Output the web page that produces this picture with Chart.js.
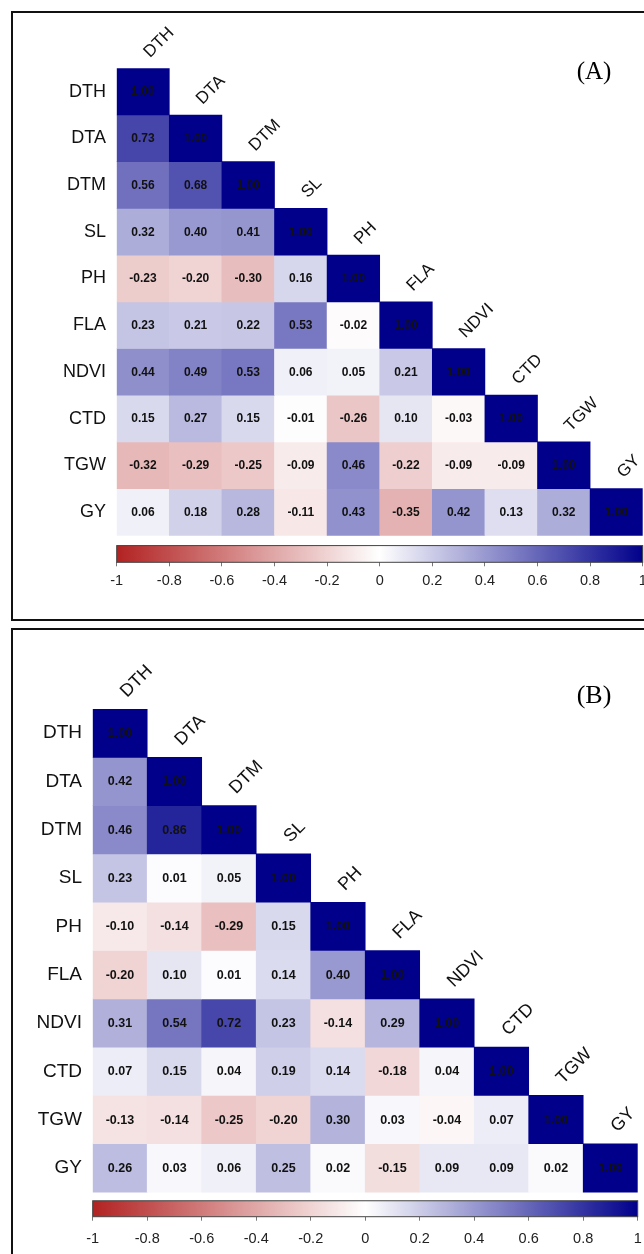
<!DOCTYPE html>
<html>
<head>
<meta charset="utf-8">
<title>Trait correlations (A) and (B)</title>
<script src="https://cdn.jsdelivr.net/npm/chart.js@4.4.1/dist/chart.umd.min.js"></script>
<style>
  html, body { margin: 0; padding: 0; background: #fff; }
  body { position: relative; width: 644px; height: 1254px; overflow: hidden; }
  .frame { position: absolute; left: 11px; width: 720px; border: 2.5px solid #111; box-sizing: border-box; }
  #frame-a { top: 11px; height: 610px; }
  #frame-b { top: 628px; height: 700px; }
  .tag { position: absolute; font-family: "Liberation Serif", "Times New Roman", serif; color: #000; transform: translate(-50%, -50%); }
  canvas { position: absolute; left: 0; }
</style>
</head>
<body>
<div class="frame" id="frame-a"></div>
<div class="frame" id="frame-b"></div>
<canvas id="chart-a" width="644" height="610" style="top:0px"></canvas>
<canvas id="chart-b" width="644" height="622" style="top:632px"></canvas>
<div class="tag" style="left:594px; top:71px; font-size:25px">(A)</div>
<div class="tag" style="left:594px; top:695px; font-size:26px">(B)</div>

<script>
// Trait names (rows and columns of both matrices)
const traits = ['DTH', 'DTA', 'DTM', 'SL', 'PH', 'FLA', 'NDVI', 'CTD', 'TGW', 'GY'];

// Lower triangle of the correlation matrix, panel (A)
const corrA = [
    [1.00],
    [0.73, 1.00],
    [0.56, 0.68, 1.00],
    [0.32, 0.40, 0.41, 1.00],
    [-0.23, -0.20, -0.30, 0.16, 1.00],
    [0.23, 0.21, 0.22, 0.53, -0.02, 1.00],
    [0.44, 0.49, 0.53, 0.06, 0.05, 0.21, 1.00],
    [0.15, 0.27, 0.15, -0.01, -0.26, 0.10, -0.03, 1.00],
    [-0.32, -0.29, -0.25, -0.09, 0.46, -0.22, -0.09, -0.09, 1.00],
    [0.06, 0.18, 0.28, -0.11, 0.43, -0.35, 0.42, 0.13, 0.32, 1.00]
];

// Lower triangle of the correlation matrix, panel (B)
const corrB = [
    [1.00],
    [0.42, 1.00],
    [0.46, 0.86, 1.00],
    [0.23, 0.01, 0.05, 1.00],
    [-0.10, -0.14, -0.29, 0.15, 1.00],
    [-0.20, 0.10, 0.01, 0.14, 0.40, 1.00],
    [0.31, 0.54, 0.72, 0.23, -0.14, 0.29, 1.00],
    [0.07, 0.15, 0.04, 0.19, 0.14, -0.18, 0.04, 1.00],
    [-0.13, -0.14, -0.25, -0.20, 0.30, 0.03, -0.04, 0.07, 1.00],
    [0.26, 0.03, 0.06, 0.25, 0.02, -0.15, 0.09, 0.09, 0.02, 1.00]
];

// Colour bar tick labels
const colorbarTicks = [-1, -0.8, -0.6, -0.4, -0.2, 0, 0.2, 0.4, 0.6, 0.8, 1];

const NEG_END = [178, 34, 34];   // firebrick
const POS_END = [0, 0, 139];     // darkblue
const SANS = '"Liberation Sans", Arial, sans-serif';

/**
 * Map a correlation in [-1, 1] to a red-white-blue colour
 */
function corrColor(v) {
    const end = v < 0 ? NEG_END : POS_END;
    const t = Math.min(1, Math.abs(v));
    const c = end.map(e => Math.round(255 + (e - 255) * t));
    return `rgb(${c[0]}, ${c[1]}, ${c[2]})`;
}

/**
 * One floating-bar dataset per matrix row
 */
function buildDatasets(matrix) {
    return matrix.map((row, r) => ({
        label: traits[r],
        data: traits.map((_, c) => c < row.length ? [r, r + 1] : null),
        values: traits.map((_, c) => c < row.length ? row[c] : null),
        backgroundColor: traits.map((_, c) => c < row.length ? corrColor(row[c]) : 'rgba(0,0,0,0)'),
        borderWidth: 0,
        grouped: false,
        barPercentage: 1,
        categoryPercentage: 1,
        xAxisID: 'x',
        yAxisID: 'y'
    }));
}

/**
 * Draw one triangular heatmap with its colour bar
 */
function makeHeatmap(canvasId, matrix, g) {
    // numbers inside the cells
    const cellText = {
        id: 'cellText',
        afterDatasetsDraw(chart) {
            const ctx = chart.ctx;
            ctx.save();
            ctx.font = `bold ${g.cellFont}px ${SANS}`;
            ctx.fillStyle = '#111';
            ctx.textAlign = 'center';
            ctx.textBaseline = 'middle';
            chart.data.datasets.forEach((ds, i) => {
                chart.getDatasetMeta(i).data.forEach((bar, c) => {
                    const v = ds.values[c];
                    if (v === null) return;
                    const p = bar.getProps(['x', 'y', 'base'], true);
                    ctx.fillText(v.toFixed(2), p.x, (p.y + p.base) / 2 + 0.5);
                });
            });
            ctx.restore();
        }
    };

    // rotated column names along the diagonal
    const columnLabels = {
        id: 'columnLabels',
        afterDraw(chart) {
            const ctx = chart.ctx;
            const xs = chart.scales.x;
            const ys = chart.scales.y;
            ctx.save();
            ctx.font = `${g.colFont}px ${SANS}`;
            ctx.fillStyle = '#111';
            ctx.textAlign = 'left';
            ctx.textBaseline = 'alphabetic';
            traits.forEach((name, j) => {
                const x = xs.getPixelForValue(j);
                const top = ys.getPixelForValue(j);
                ctx.save();
                ctx.translate(x + g.colDx, top - g.colDy);
                ctx.rotate(-Math.PI / 4);
                ctx.fillText(name, 0, 0);
                ctx.restore();
            });
            ctx.restore();
        }
    };

    // gradient colour bar, placed with the cb and y scales
    const colorBar = {
        id: 'colorBar',
        beforeDatasetsDraw(chart) {
            const ctx = chart.ctx;
            const cb = chart.scales.cb;
            const ys = chart.scales.y;
            const x0 = cb.getPixelForValue(-1);
            const x1 = cb.getPixelForValue(1);
            const y0 = ys.getPixelForValue(g.cbTop);
            const y1 = ys.getPixelForValue(g.yMax);
            const grad = ctx.createLinearGradient(x0, 0, x1, 0);
            for (let k = 0; k <= 40; k++) {
                const v = -1 + k / 20;
                grad.addColorStop(k / 40, corrColor(v));
            }
            ctx.save();
            ctx.fillStyle = grad;
            ctx.fillRect(x0, y0, x1 - x0, y1 - y0);
            ctx.strokeStyle = '#444';
            ctx.lineWidth = 1;
            ctx.strokeRect(x0, y0, x1 - x0, y1 - y0);
            ctx.restore();
        }
    };

    return new Chart(document.getElementById(canvasId), {
        type: 'bar',
        data: {
            labels: traits,
            datasets: buildDatasets(matrix)
        },
        options: {
            responsive: false,
            animation: false,
            devicePixelRatio: 1,
            layout: {
                padding: { top: g.padTop, left: 0, right: g.padRight, bottom: g.padBottom }
            },
            plugins: {
                legend: { display: false },
                tooltip: { enabled: false }
            },
            scales: {
                x: {
                    type: 'category',
                    display: false,
                    offset: true
                },
                y: {
                    type: 'linear',
                    min: 0,
                    max: g.yMax,
                    reverse: true,
                    afterFit: s => { s.width = g.axisWidth; },
                    afterBuildTicks: s => { s.ticks = traits.map((_, i) => ({ value: i + 0.5 })); },
                    ticks: {
                        autoSkip: false,
                        padding: g.labelPad,
                        color: '#111',
                        font: { family: SANS, size: g.rowFont },
                        callback: (v, i) => traits[i]
                    },
                    grid: { display: false, drawTicks: false },
                    border: { display: false }
                },
                cb: {
                    type: 'linear',
                    position: 'bottom',
                    min: -1,
                    max: 1,
                    offset: false,
                    afterFit: s => {
                        // keep the end labels from shrinking the plot area
                        s.height = 34;
                        s.paddingLeft = 0;
                        s.paddingRight = 0;
                    },
                    afterBuildTicks: s => { s.ticks = colorbarTicks.map(v => ({ value: v })); },
                    ticks: {
                        autoSkip: false,
                        maxRotation: 0,
                        padding: g.tickPad,
                        color: '#222',
                        font: { family: SANS, size: g.tickFont },
                        callback: v => String(+v.toFixed(1))
                    },
                    grid: { offset: false, drawOnChartArea: false, drawTicks: true, tickLength: 4, color: '#777' },
                    border: { display: false }
                }
            }
        },
        plugins: [colorBar, cellText, columnLabels]
    });
}

makeHeatmap('chart-a', corrA, {
    padTop: 68.3, padRight: 1.3, padBottom: 13.7, axisWidth: 116.7,
    yMax: 10.578, cbTop: 10.22,
    rowFont: 18, colFont: 17, cellFont: 12, tickFont: 14.5,
    labelPad: 10.7, tickPad: 6.3, colDx: 7, colDy: 10
});

makeHeatmap('chart-b', corrB, {
    padTop: 77, padRight: 6.3, padBottom: 3.3, axisWidth: 92.7,
    yMax: 10.51, cbTop: 10.18,
    rowFont: 19, colFont: 18, cellFont: 12.5, tickFont: 14.5,
    labelPad: 10.7, tickPad: 9.2, colDx: 7, colDy: 11
});
</script>
</body>
</html>
